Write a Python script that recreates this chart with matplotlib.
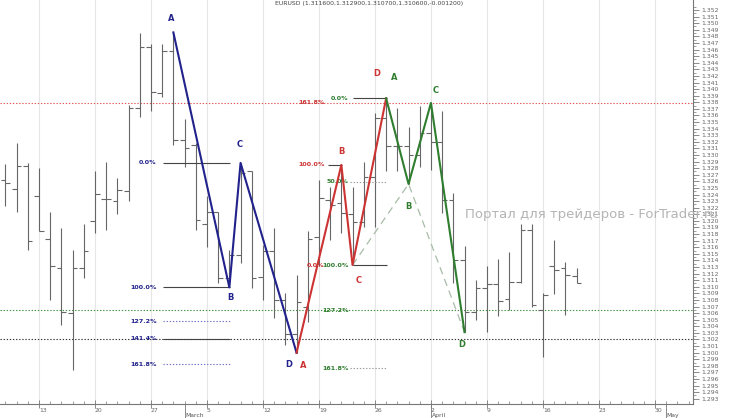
import numpy as np
import pandas as pd
import matplotlib
matplotlib.use('Agg')
import matplotlib.pyplot as plt
from matplotlib.ticker import FixedLocator, FuncFormatter

# daily EURUSD bars, first bar on Wed 8 Feb 2012
first_day = '2012-02-08'
opens = [1.3262, 1.3249, 1.3284, 1.3237, 1.3172, 1.3128, 1.3060, 1.3129, 1.3200, 1.3233,
         1.3230, 1.3245, 1.3371, 1.3464, 1.3394, 1.3458, 1.3322, 1.3315, 1.3195, 1.3214,
         1.3113, 1.3148, 1.3275, 1.3115, 1.3155, 1.3080, 1.3029, 1.3070, 1.3176, 1.3232,
         1.3227, 1.3211, 1.3198, 1.3267, 1.3356, 1.3314, 1.3313, 1.3300, 1.3333, 1.3319,
         1.3232, 1.3141, 1.3062, 1.3098, 1.3104, 1.3081, 1.3108, 1.3186, 1.3065, 1.3132,
         1.3129, 1.3116]
highs = [1.3287, 1.3318, 1.3288, 1.3281, 1.3214, 1.3189, 1.3156, 1.3196, 1.3275, 1.3290,
         1.3265, 1.3376, 1.3485, 1.3468, 1.3468, 1.3486, 1.3354, 1.3318, 1.3237, 1.3214,
         1.3156, 1.3288, 1.3275, 1.3163, 1.3189, 1.3090, 1.3118, 1.3185, 1.3262, 1.3252,
         1.3285, 1.3252, 1.3290, 1.3364, 1.3386, 1.3371, 1.3343, 1.3374, 1.3379, 1.3366,
         1.3242, 1.3162, 1.3110, 1.3131, 1.3142, 1.3153, 1.3196, 1.3196, 1.3090, 1.3171,
         1.3138, 1.3129]
lows = [1.3222, 1.3214, 1.3156, 1.3185, 1.3080, 1.3042, 1.2974, 1.3114, 1.3181, 1.3186,
        1.3210, 1.3230, 1.3357, 1.3366, 1.3388, 1.3315, 1.3282, 1.3186, 1.3160, 1.3105,
        1.3099, 1.3136, 1.3098, 1.3080, 1.3052, 1.3012, 1.3000, 1.3047, 1.3131, 1.3171,
        1.3181, 1.3133, 1.3191, 1.3191, 1.3275, 1.3275, 1.3256, 1.3282, 1.3277, 1.3212,
        1.3105, 1.3031, 1.3050, 1.3032, 1.3055, 1.3065, 1.3105, 1.3070, 1.2994, 1.3089,
        1.3057, 1.3106]
closes = [1.3258, 1.3284, 1.3170, 1.3185, 1.3132, 1.3062, 1.3129, 1.3155, 1.3241, 1.3233,
          1.3247, 1.3371, 1.3464, 1.3396, 1.3458, 1.3322, 1.3310, 1.3202, 1.3214, 1.3113,
          1.3148, 1.3272, 1.3114, 1.3155, 1.3080, 1.3029, 1.3077, 1.3173, 1.3234, 1.3224,
          1.3212, 1.3198, 1.3267, 1.3356, 1.3314, 1.3314, 1.3300, 1.3333, 1.3319, 1.3232,
          1.3141, 1.3062, 1.3098, 1.3104, 1.3079, 1.3108, 1.3186, 1.3072, 1.3087, 1.3125,
          1.3118, 1.3106]
title = "EURUSD (1.311600,1.312900,1.310700,1.310600,-0.001200)"
watermark = "Портал для трейдеров - ForTrader.ru"
price_ticks = np.arange(1293, 1353) / 1000.0

# ABCD patterns: bar index and which extreme
blue_pts = [(15, 'H'), (20, 'L'), (21, 'H'), (26, 'L')]
red_pts = [(26, 'L'), (30, 'H'), (31, 'L'), (34, 'H')]
green_pts = [(34, 'H'), (36, 'L'), (38, 'H'), (41, 'L')]
dash_pts = [(31, 'L'), (36, 'L'), (41, 'L')]
letters = ['A', 'B', 'C', 'D']

blue_ratios = [0.0, 1.0, 1.272, 1.414, 1.618]
red_ratios = [0.0, 1.0, 1.618]
green_ratios = [0.0, 0.5, 1.0, 1.272, 1.618]

dates = pd.bdate_range(first_day, periods=len(opens))
axis_days = pd.bdate_range('2012-02-06', '2012-05-18')
xpos = np.array([axis_days.get_loc(d) for d in dates])


def price(p):
    j, kind = p
    return highs[j] if kind == 'H' else lows[j]


def coords(pts):
    return [xpos[j] for j, _ in pts], [price(p) for p in pts]


BLUE = '#22228c'
RED = '#cc3333'
GREEN = '#2f7d2f'
BAR = '#666666'

fig = plt.figure(figsize=(7.3, 4.18), dpi=100, facecolor='white')
ax = fig.add_axes([0, 14/418, 693/730, 404/418])
ax.set_xlim(1.52, 63.4)
ax.set_ylim(1.29221, 1.35352)

# grid at mondays
mondays = [k for k, d in enumerate(axis_days) if d.weekday() == 0]
for k in mondays:
    ax.axvline(k, color='#e6e6e6', lw=0.8, zorder=0)

# ohlc bars
w = 0.42
ax.vlines(xpos, lows, highs, color=BAR, lw=0.8, zorder=2)
ax.hlines(opens, xpos - w, xpos, color=BAR, lw=0.8, zorder=2)
ax.hlines(closes, xpos, xpos + w, color=BAR, lw=0.8, zorder=2)

# fib levels
bA, bB, bC, bD = [price(p) for p in blue_pts]
rA, rB, rC, rD = [price(p) for p in red_pts]
gA = price(green_pts[0])
blue_lv = [bC - r * (bC - bB) for r in blue_ratios]
red_lv = [rC + r * (rB - rC) for r in red_ratios]
green_lv = [gA - r * (gA - rC) for r in green_ratios]

dot = (0, (1.2, 1.6))
ax.axhline(blue_lv[3], color='#333333', lw=0.8, ls=dot, zorder=1)
ax.axhline(red_lv[2], color='#e05555', lw=0.8, ls=dot, zorder=1)
ax.axhline(green_lv[3], color='#3f913f', lw=0.8, ls=dot, zorder=1)

lab = dict(fontsize=4.6, fontweight='bold', ha='right', va='center')
for r, lv in zip(blue_ratios, blue_lv):
    ax.text(15.5, lv, '%.1f%%' % (r * 100), color=BLUE, **lab)
    if r in (1.272, 1.618):
        ax.hlines(lv, 16.1, 22.1, color='#6f6fc8', lw=0.8, ls=dot)
    else:
        ax.hlines(lv, 16.1, 22.1, color='#444444', lw=0.8)
for r, lv in zip(red_ratios, red_lv):
    ax.text(30.5, lv, '%.1f%%' % (r * 100), color=RED, **lab)
ax.hlines(red_lv[1], 30.8, 32.05, color='#444444', lw=0.8)
for r, lv in zip(green_ratios, green_lv):
    ax.text(32.65, lv, '%.1f%%' % (r * 100), color=GREEN, **lab)
    if r in (0.5, 1.618):
        ax.hlines(lv, 32.8, 36.1, color='#999999', lw=0.8, ls=dot)
    elif r != 1.272:
        ax.hlines(lv, 33.0, 36.1, color='#444444', lw=0.8)

# patterns
x, y = coords(dash_pts)
ax.plot(x, y, color='#a8bca8', lw=0.9, ls=(0, (6, 4)), zorder=3)
offsets = {
    'blue': [(-2, 14), (1, -10), (-1, 18), (-8, -12)],
    'red': [(7, -13), (0, 13), (6, -15), (-9, 25)],
    'green': [(8, 21), (0, -23), (5, 12), (-3, -12)],
}
for name, pts, col in (('blue', blue_pts, BLUE), ('red', red_pts, RED),
                       ('green', green_pts, GREEN)):
    x, y = coords(pts)
    ax.plot(x, y, color=col, lw=1.5, zorder=4)
    for L, xx, yy, off in zip(letters, x, y, offsets[name]):
        ax.annotate(L, (xx, yy), xytext=off, textcoords='offset pixels',
                    ha='center', va='center', color=col, fontsize=6,
                    fontweight='bold')

# axes styling
for s in ('left', 'top'):
    ax.spines[s].set_visible(False)
for s in ('right', 'bottom'):
    ax.spines[s].set_color('#777777')
    ax.spines[s].set_linewidth(0.8)

ax.yaxis.tick_right()
ax.yaxis.set_major_locator(FixedLocator(price_ticks))
ax.yaxis.set_minor_locator(FixedLocator(price_ticks + 0.0005))
ax.yaxis.set_major_formatter(FuncFormatter(lambda v, p: '%.3f' % v))
ax.tick_params(axis='y', which='major', length=4, width=0.6, pad=2,
               labelsize=4.4, colors='#777777', labelcolor='#666666')
ax.tick_params(axis='y', which='minor', length=2, width=0.5, colors='#777777')
ax.set_ylim(1.29221, 1.35352)

ax.xaxis.set_major_locator(FixedLocator(mondays))
ax.xaxis.set_minor_locator(FixedLocator(range(len(axis_days))))
ax.set_xticklabels([str(axis_days[k].day) for k in mondays])
ax.tick_params(axis='x', which='major', direction='inout', length=6, width=0.6,
               pad=0, labelsize=4.4, colors='#777777', labelcolor='#666666')
ax.tick_params(axis='x', which='minor', direction='in', length=2.5, width=0.5,
               colors='#777777')
for t in ax.get_xticklabels():
    t.set_ha('left')

trans = ax.get_xaxis_transform()
for d, name in ((pd.Timestamp('2012-03-01'), 'March'),
                (pd.Timestamp('2012-04-02'), 'April'),
                (pd.Timestamp('2012-05-01'), 'May')):
    k = axis_days.get_loc(d)
    ax.plot([k, k], [0, -0.034], color='#777777', lw=0.6, transform=trans,
            clip_on=False)
    ax.text(k + 0.05, -0.022, name, transform=trans, fontsize=4.4,
            color='#555555', ha='left', va='top')

fig.text(275/730, 1 - 4/418, title, fontsize=4.4, color='#444444',
         ha='left', va='center')
fig.text(465/730, 1 - 215/418, watermark, fontsize=9.5, color='#b4b4b4',
         ha='left', va='center', zorder=10)

fig.savefig('out.png', dpi=100)
